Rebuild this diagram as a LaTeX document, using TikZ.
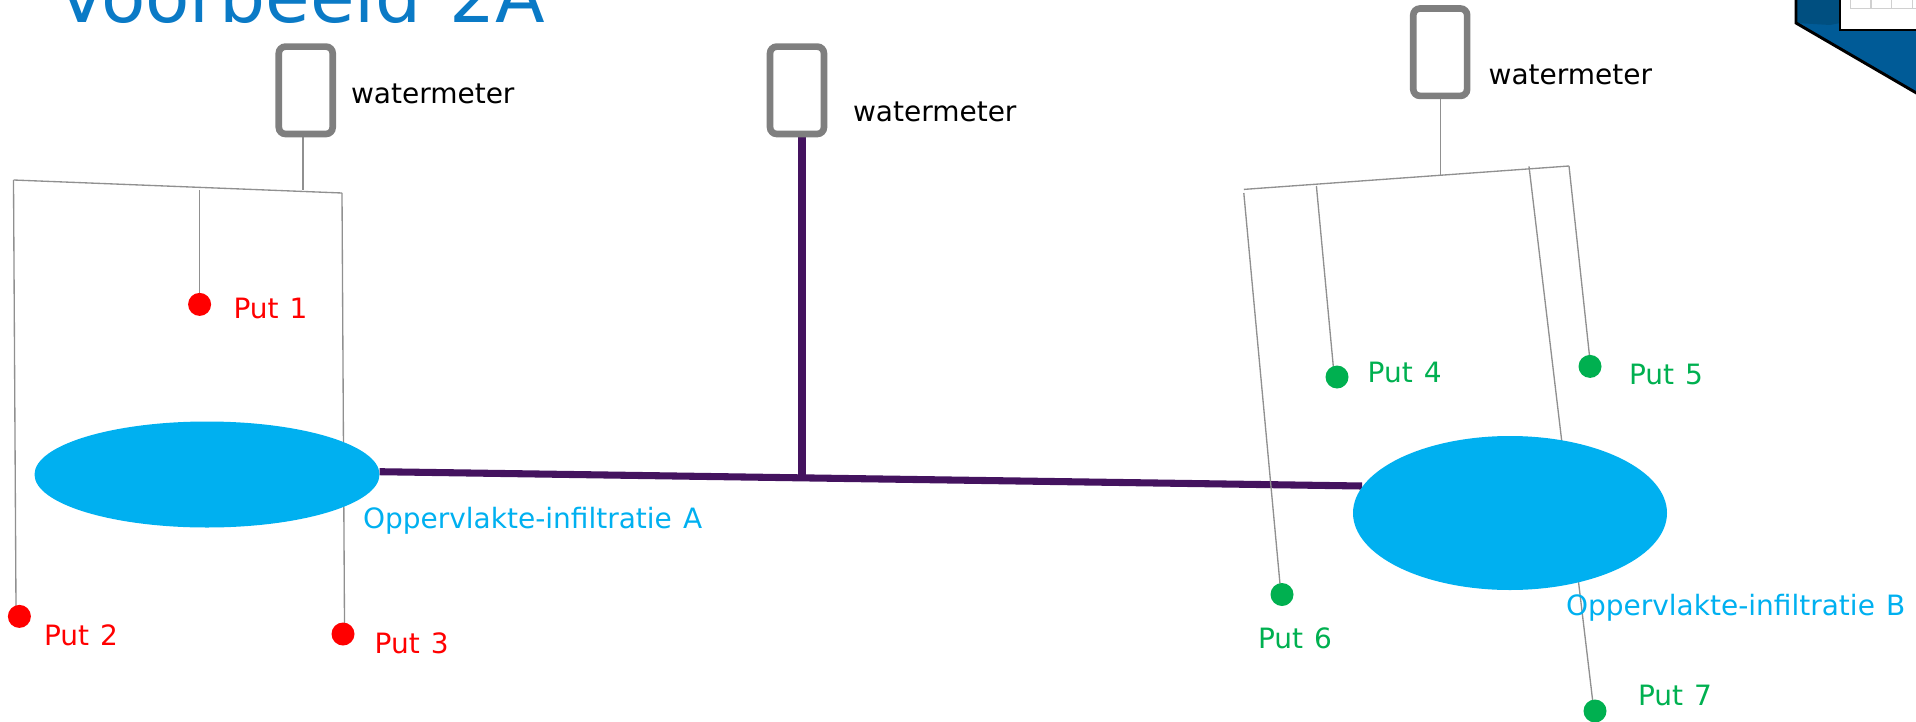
\documentclass[tikz,border=0pt]{standalone}
\usepackage{fontspec}
\setmainfont[WordSpace=1.25]{DejaVu Sans}
\usetikzlibrary{shapes.geometric,backgrounds}
\definecolor{meterc}{HTML}{7F7F7F}
\definecolor{wirec}{HTML}{909090}
\definecolor{mainc}{HTML}{44135F}
\definecolor{poolc}{HTML}{00B0F0}
\definecolor{greenc}{HTML}{00B050}
\definecolor{titlec}{HTML}{0A7AC6}
\definecolor{iconc}{HTML}{005B97}
\definecolor{icond}{HTML}{004F80}
\definecolor{gridc}{HTML}{D0D0D0}
\tikzset{
  x=0.75pt,y=-0.75pt,
  every node/.style={inner sep=0pt,outer sep=0pt},
  meter/.style={draw=meterc,line width=5pt,rounded corners=5pt,fill=white,minimum width=40.4pt,minimum height=65.5pt},
  wire/.style={draw=wirec,line width=1pt},
  mainpipe/.style={draw=mainc,line width=5.3pt},
  pool/.style={ellipse,fill=poolc},
  reddot/.style={circle,fill=red,minimum size=17.25pt},
  greendot/.style={circle,fill=greenc,minimum size=17.25pt},
  lab/.style={anchor=base west,font=\fontsize{21pt}{24pt}\selectfont},
  poollab/.style={lab,text=poolc},
  redlab/.style={lab,text=red},
  greenlab/.style={lab,text=greenc},
}
\begin{document}
\begin{tikzpicture}
\path[use as bounding box,clip] (0,0) rectangle (1916,721);
% icon
\fill[iconc] (1796,-5) -- (1796,23) -- (1925,98) -- (1925,-5) -- cycle;
\fill[icond] (1796,-5) -- (1796,23) -- (1830,25) -- (1840,23) -- (1840,-5) -- cycle;
\draw[black,line width=2.2pt] (1796,-5) -- (1796,23) -- (1925,98);
\draw[black,line width=2.2pt,fill=white] (1840,-5) rectangle (1925,30);
\draw[gridc,line width=1pt] (1850.5,-5) -- (1850.5,8.5) -- (1925,8.5)
  (1871,-5) -- (1871,8.5) (1891.5,-5) -- (1891.5,8.5) (1912.5,-5) -- (1912.5,8.5);
% title
\node[anchor=base west,text=titlec,font=\fontsize{54.4pt}{60pt}\selectfont] (title) at (57,22.3) {Voorbeeld 2A};
% meters
\node[meter] (m1) at (305.75,90.3) {};
\node[meter] (m2) at (797,90.3) {};
\node[meter] (m3) at (1440.2,52.2) {};
\node[lab] (w1) at (351,103.4) {watermeter};
\node[lab] (w2) at (853,121) {watermeter};
\node[lab] (w3) at (1488.6,84) {watermeter};
% pools
\node[pool,minimum width=258.75pt,minimum height=79.5pt] (poolA) at (207,474.5) {};
\node[pool,minimum width=235.5pt,minimum height=115.5pt] (poolB) at (1510,513) {};
\node[poollab] (labA) at (363,528) {Oppervlakte-infiltratie A};
% wells
\node[reddot] (p1) at (199.6,304.4) {};
\node[reddot] (p2) at (19.4,616.4) {};
\node[reddot] (p3) at (343,634) {};
\node[greendot] (p4) at (1337,377) {};
\node[greendot] (p5) at (1590,366.4) {};
\node[greendot] (p6) at (1282,594.5) {};
\node[greendot] (p7) at (1595,711) {};
\node[redlab] (l1) at (233.5,318) {Put 1};
\node[redlab] (l2) at (44,645) {Put 2};
\node[redlab] (l3) at (374.7,653) {Put 3};
\node[greenlab] (l4) at (1367.6,382.5) {Put 4};
\node[greenlab] (l5) at (1629,384) {Put 5};
\node[greenlab] (l6) at (1258,648) {Put 6};
\node[greenlab] (l7) at (1638,705) {Put 7};
\node[poollab] (labB) at (1566,615) {Oppervlakte-infiltratie B};
% junctions
\coordinate (a1) at (13.5,180);
\coordinate (a2) at (342,193);
\coordinate (a3) at (303,190);
\coordinate (a4) at (199.6,190);
\coordinate (b1) at (1243.8,189.4);
\coordinate (b2) at (1569,166);
\coordinate (b3) at (1440.2,176);
\coordinate (b4) at (1316.4,186);
\coordinate (b5) at (1529,166.4);
\coordinate (b6) at (1243.8,193);
\coordinate (c1) at (802,476);
\coordinate (c2) at (379.6,471.7);
\coordinate (c3) at (1362,486);
\coordinate (m2s) at (802,136);
\coordinate (m1s) at (303,137);
\coordinate (p2t) at (16,607);
\coordinate (p3t) at (344.5,623);
\coordinate (p6t) at (1280,584);
\coordinate (p7t) at (1592.7,701);
\coordinate (p4t) at (1333.3,366.4);
\coordinate (p5t) at (1589.5,356);
\begin{scope}[on background layer]
\draw[mainpipe] (c2) -- (c3);
\draw[mainpipe] (m2s) -- (c1);
\draw[wire] (m1s) -- (a3);
\draw[wire] (a1) -- (a2);
\draw[wire] (a1) -- (p2t);
\draw[wire] (a2) -- (p3t);
\draw[wire] (a4) -- (p1);
\draw[wire] (m3) -- (b3);
\draw[wire] (b1) -- (b2);
\draw[wire] (b6) -- (p6t);
\draw[wire] (b4) -- (p4t);
\draw[wire] (b2) -- (p5t);
\draw[wire] (b5) -- (p7t);
\end{scope}
\end{tikzpicture}
\end{document}
